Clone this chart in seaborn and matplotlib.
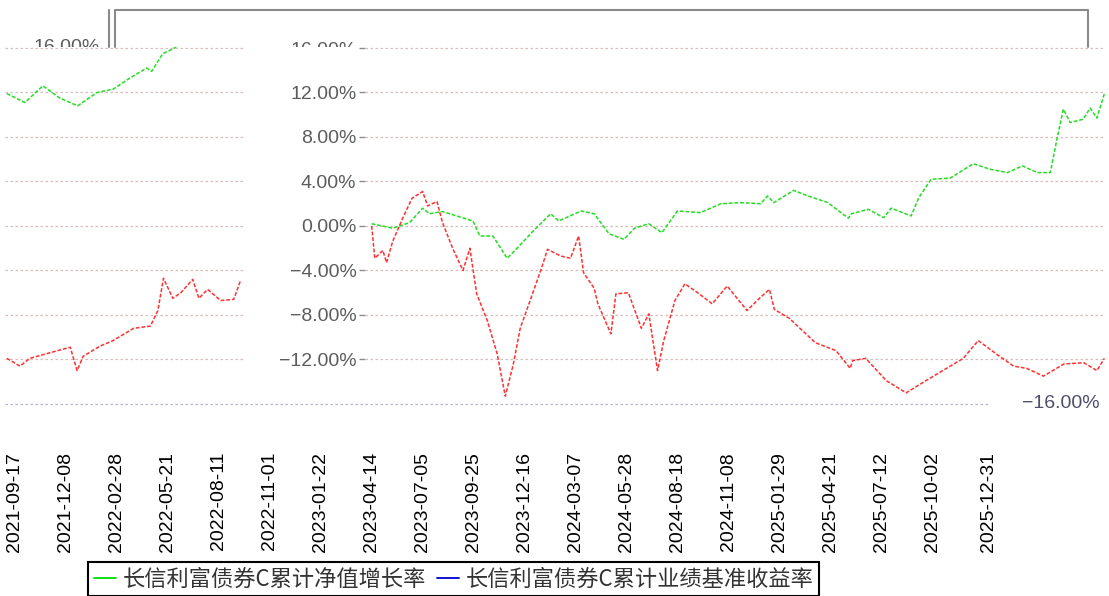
import pandas as pd
import seaborn as sns
import matplotlib.pyplot as plt
import matplotlib.dates as mdates
from matplotlib.lines import Line2D
from matplotlib.transforms import Bbox, TransformedBbox

# --- values (percent) ---
# fund: cumulative NAV growth, two visible pieces
fund_dates_a = ["2021-09-04", "2021-10-03", "2021-11-01", "2021-11-28", "2021-12-27",
                "2022-01-27", "2022-02-22", "2022-03-21", "2022-04-17", "2022-04-25",
                "2022-05-13", "2022-05-29", "2022-06-26"]
fund_vals_a = [11.9, 11.1, 12.6, 11.5, 10.8, 12.0, 12.3, 13.3, 14.2, 13.9, 15.5, 15.9, 17.0]

fund_dates_b = ["2023-04-14", "2023-05-18", "2023-06-14", "2023-07-05", "2023-07-16",
                "2023-08-06", "2023-08-29", "2023-09-24", "2023-10-05", "2023-10-26",
                "2023-11-18", "2023-12-04", "2023-12-30", "2024-01-27", "2024-02-09",
                "2024-03-16", "2024-04-06", "2024-04-30", "2024-05-24", "2024-06-10",
                "2024-07-03", "2024-07-24", "2024-08-18", "2024-09-24", "2024-10-27",
                "2024-11-28", "2024-12-30", "2025-01-10", "2025-01-20", "2025-02-21",
                "2025-03-16", "2025-04-17", "2025-05-20", "2025-05-25", "2025-06-21",
                "2025-07-16", "2025-07-28", "2025-08-29", "2025-09-10", "2025-09-30",
                "2025-10-31", "2025-12-07", "2026-01-03", "2026-01-31", "2026-02-24",
                "2026-03-20", "2026-04-10", "2026-04-21", "2026-05-01", "2026-05-12",
                "2026-06-02", "2026-06-13", "2026-06-24", "2026-07-06"]
fund_vals_b = [0.2, -0.2, 0.3, 1.6, 1.1, 1.3, 0.9, 0.45, -0.9, -0.9,
               -2.9, -2.0, -0.45, 1.1, 0.45, 1.35, 1.1, -0.7, -1.2, -0.2,
               0.2, -0.6, 1.35, 1.2, 2.0, 2.1, 2.0, 2.7, 2.1, 3.2,
               2.7, 2.1, 0.7, 1.1, 1.5, 0.75, 1.6, 0.9, 2.5, 4.2,
               4.3, 5.6, 5.1, 4.8, 5.4, 4.8, 4.8, 7.9, 10.5, 9.3,
               9.6, 10.6, 9.7, 11.9]

# benchmark: cumulative benchmark return, two visible pieces
bench_dates_a = ["2021-09-04", "2021-09-25", "2021-10-11", "2021-11-12", "2021-12-15",
                 "2021-12-26", "2022-01-05", "2022-02-01", "2022-02-22", "2022-03-27",
                 "2022-04-23", "2022-05-05", "2022-05-14", "2022-05-29", "2022-06-11",
                 "2022-06-30", "2022-07-10", "2022-07-24", "2022-08-14", "2022-09-04",
                 "2022-09-15"]
bench_vals_a = [-11.9, -12.6, -11.9, -11.4, -10.9, -13.0, -11.7, -10.8, -10.3, -9.2,
                -9.0, -7.6, -4.7, -6.5, -6.0, -4.8, -6.5, -5.7, -6.7, -6.6, -4.9]

bench_dates_b = ["2023-04-14", "2023-04-19", "2023-05-02", "2023-05-08", "2023-05-18",
                 "2023-06-03", "2023-06-18", "2023-07-05", "2023-07-13", "2023-07-28",
                 "2023-08-06", "2023-08-23", "2023-09-08", "2023-09-19", "2023-09-30",
                 "2023-10-17", "2023-11-02", "2023-11-15", "2023-11-28", "2023-12-09",
                 "2023-12-25", "2024-01-11", "2024-01-22", "2024-02-12", "2024-02-28",
                 "2024-03-12", "2024-03-20", "2024-04-06", "2024-04-12", "2024-05-03",
                 "2024-05-11", "2024-05-31", "2024-06-21", "2024-07-03", "2024-07-17",
                 "2024-07-27", "2024-08-14", "2024-08-30", "2024-09-22", "2024-10-13",
                 "2024-11-06", "2024-12-08", "2024-12-28", "2025-01-13", "2025-01-21",
                 "2025-02-14", "2025-03-07", "2025-03-28", "2025-04-30", "2025-05-23",
                 "2025-05-27", "2025-06-17", "2025-07-20", "2025-08-21", "2025-09-22",
                 "2025-10-19", "2025-11-21", "2025-12-15", "2026-01-13", "2026-02-10",
                 "2026-03-03", "2026-03-30", "2026-05-02", "2026-06-03", "2026-06-24",
                 "2026-07-06"]
bench_vals_b = [0.0, -2.9, -2.2, -3.3, -1.35, 0.7, 2.5, 3.1, 1.8, 2.2,
                0.3, -2.1, -4.0, -2.0, -6.1, -8.5, -11.5, -15.3, -12.4, -9.2,
                -6.7, -4.0, -2.1, -2.7, -2.9, -0.9, -4.2, -5.6, -7.0, -9.7,
                -6.1, -6.0, -9.2, -7.9, -13.0, -10.3, -6.7, -5.2, -6.1, -7.0,
                -5.4, -7.6, -6.5, -5.7, -7.5, -8.3, -9.4, -10.5, -11.2, -12.8,
                -12.1, -11.9, -13.9, -15.0, -13.9, -13.0, -11.9, -10.3, -11.5, -12.6,
                -12.8, -13.5, -12.4, -12.3, -13.0, -11.9]

tick_dates = ["2021-09-17", "2021-12-08", "2022-02-28", "2022-05-21", "2022-08-11",
              "2022-11-01", "2023-01-22", "2023-04-14", "2023-07-05", "2023-09-25",
              "2023-12-16", "2024-03-07", "2024-05-28", "2024-08-18", "2024-11-08",
              "2025-01-29", "2025-04-21", "2025-07-12", "2025-10-02", "2025-12-31"]
y_ticks = [16, 12, 8, 4, 0, -4, -8, -12]

fund_label = "长信利富债券C累计净值增长率"
bench_label = "长信利富债券C累计业绩基准收益率"


def pieces(series, parts):
    rows = []
    for seg, (dates, vals) in enumerate(parts):
        rows.append(pd.DataFrame({"series": series, "segment": seg,
                                  "date": pd.to_datetime(dates), "value": vals}))
    return pd.concat(rows, ignore_index=True)


df = pd.concat([
    pieces("fund", [(fund_dates_a, fund_vals_a), (fund_dates_b, fund_vals_b)]),
    pieces("bench", [(bench_dates_a, bench_vals_a), (bench_dates_b, bench_vals_b)]),
], ignore_index=True)

# --- style ---
sns.set_theme(style="white")
plt.rcParams["font.family"] = ["Liberation Sans", "Noto Sans CJK SC", "DejaVu Sans"]
plt.rcParams["axes.unicode_minus"] = True

W, H = 1109, 596
fig = plt.figure(figsize=(W / 100, H / 100), dpi=100)
ax = fig.add_axes([5 / W, 1 - 445 / H, 1100 / W, 398 / H])

sns.lineplot(data=df[df["series"] == "fund"], x="date", y="value", units="segment",
             estimator=None, color="#22dd22", lw=1.1, linestyle=(0, (2.5, 1.2)),
             ax=ax, legend=False, zorder=2)
sns.lineplot(data=df[df["series"] == "bench"], x="date", y="value", units="segment",
             estimator=None, color="#ff3030", lw=1.1, linestyle=(0, (2.5, 1.2)),
             ax=ax, legend=False, zorder=2)

x_start, x_end = pd.Timestamp("2021-09-01"), pd.Timestamp("2026-07-07")
gap_start, gap_end = pd.Timestamp("2022-09-22"), pd.Timestamp("2023-04-03")
ax.set_xlim(x_start, x_end)
ax.set_ylim(-19.69, 16.09)

# gridlines in two pieces, blank band where the picture is empty
grid_kw = dict(color="#d8bcbc", lw=0.9, linestyle=(0, (2, 2)), zorder=1)
ax.hlines(y_ticks, x_start, gap_start, **grid_kw)
ax.hlines(y_ticks, gap_end, x_end, **grid_kw)
ax.hlines(-16, x_start, pd.Timestamp("2026-01-03"),
          color="#b4b4d2", lw=0.9, linestyle=(0, (2, 2)), zorder=1)
ax.text(0.9955, -16, "\u221216.00%", transform=ax.get_yaxis_transform(),
        ha="right", va="center", fontsize=14, color="#4e4e6c")

# y axis sits in the middle of the plot
ax.set_yticks(y_ticks)
ax.set_yticklabels([f"{v:.2f}%".replace("-", "\u2212") for v in y_ticks])
ax.grid(False)
for s in ax.spines.values():
    s.set_visible(False)
ax.spines["left"].set_visible(True)
ax.spines["left"].set_color("none")
ax.spines["left"].set_position(("data", mdates.date2num(gap_end)))
ax.tick_params(axis="y", length=4, width=1, color="#8c8c8c", pad=2,
               labelsize=14, labelcolor="#5c5c5c", left=True)

ax.set_xticks(pd.to_datetime(tick_dates))
ax.set_xticklabels(tick_dates, rotation=90)
ax.tick_params(axis="x", length=0, pad=5, labelsize=14, labelcolor="black")
ax.set_xlabel("")
ax.set_ylabel("")

# things above the plot get cut off at its top edge
top_clip = TransformedBbox(Bbox([[0, 1 - 47 / H], [1, 1]]), fig.transFigure)
gray = "#8a8a8a"
for xs, ys in [([109, 109], [10, 47]), ([115, 115, 1088, 1088], [47, 10, 10, 47])]:
    fig.add_artist(Line2D([x / W for x in xs], [1 - y / H for y in ys],
                          color=gray, lw=1.5, transform=fig.transFigure))
t16 = fig.text(100 / W, 1 - 47 / H, "16.00%", ha="right", va="center",
               fontsize=14, color="#5c5c5c")
t16.set_clip_box(top_clip)
t16.set_clip_on(True)
top_label = ax.yaxis.get_major_ticks()[0].label1
top_label.set_clip_box(top_clip)
top_label.set_clip_on(True)

handles = [Line2D([], [], color="#00dd00", lw=1.3), Line2D([], [], color="#0000cc", lw=1.3)]
leg = fig.legend(handles, [fund_label, bench_label], loc="upper left",
                 bbox_to_anchor=(88 / W, 1 - 562 / H), ncol=2, frameon=True,
                 fancybox=False, edgecolor="black", framealpha=1,
                 prop={"family": ["Noto Sans CJK SC", "DejaVu Sans"], "size": 16},
                 handlelength=1.0, handletextpad=0.3, columnspacing=0.5,
                 borderpad=0.25, borderaxespad=0)
leg.get_frame().set_linewidth(1.5)
for txt in leg.get_texts():
    txt.set_color("#333333")

fig.savefig("out.png", dpi=100)
